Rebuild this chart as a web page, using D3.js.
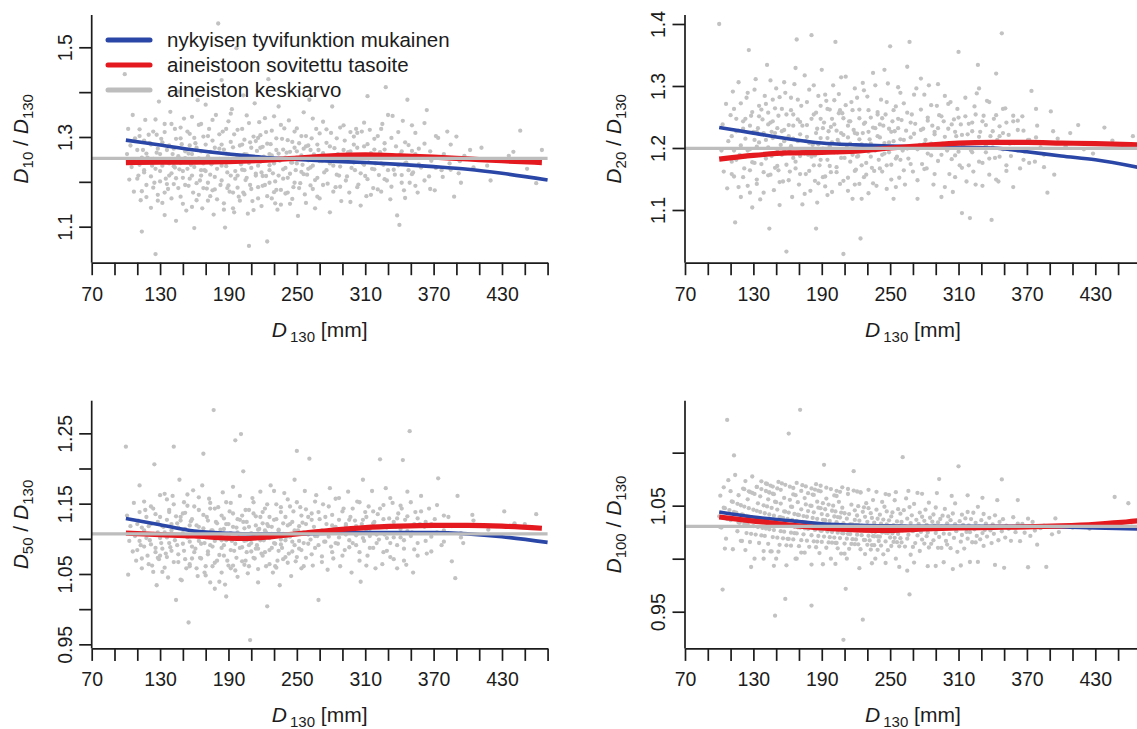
<!DOCTYPE html>
<html>
<head>
<meta charset="utf-8">
<script src="https://cdn.jsdelivr.net/npm/d3@7"></script>
<style>
  html, body { margin: 0; padding: 0; background: #fff; }
  svg { display: block; }
</style>
</head>
<body>
<svg id="chart" width="1137" height="729"></svg>
<script>
// ---------------- DATA ----------------
const xTicks = [70,90,110,130,150,170,190,210,230,250,270,290,310,330,350,370,390,410,430,450,470];
const xTickLabels = ["70","130","190","250","310","370","430"];
const legendLabels = ["nykyisen tyvifunktion mukainen", "aineistoon sovitettu tasoite", "aineiston keskiarvo"];

const p10YTicks = [1.1,1.2,1.3,1.4,1.5];
const p10YLabels = ["1.1","1.3","1.5"];
const p20YTicks = [1.1,1.2,1.3,1.4];
const p20YLabels = ["1.1","1.2","1.3","1.4"];
const p50YTicks = [0.95,1.00,1.05,1.10,1.15,1.20,1.25];
const p50YLabels = ["0.95","1.05","1.15","1.25"];
const p100YTicks = [0.95,1.00,1.05,1.10];
const p100YLabels = ["0.95","1.05"];

// Curves: current stem function (blue), fitted level (red), data mean (gray)
const p10BlueX = [100,130,160,190,220,250,280,310,340,370,400,430,470];
const p10BlueY = [1.293,1.282,1.271,1.262,1.255,1.250,1.246,1.243,1.239,1.234,1.228,1.219,1.204];
const p10RedX  = [100,130,160,190,220,250,280,310,340,370,400,430,465];
const p10RedY  = [1.243,1.244,1.244,1.245,1.248,1.253,1.258,1.260,1.258,1.255,1.251,1.247,1.243];
const p10Mean = 1.2525;

const p20BlueX = [100,130,160,190,220,250,280,310,340,370,400,430,470];
const p20BlueY = [1.233,1.224,1.215,1.208,1.205,1.203,1.202,1.201,1.200,1.194,1.187,1.181,1.168];
const p20RedX  = [100,130,160,190,220,250,280,310,340,370,400,430,467];
const p20RedY  = [1.182,1.188,1.192,1.193,1.195,1.200,1.204,1.208,1.209,1.209,1.208,1.207,1.205];
const p20Mean = 1.1995;

const p50BlueX = [100,130,160,190,220,250,280,310,340,370,400,430,470];
const p50BlueY = [1.129,1.120,1.111,1.108,1.107,1.107,1.108,1.109,1.109,1.109,1.107,1.103,1.095];
const p50RedX  = [100,130,160,190,205,220,250,280,310,340,370,400,430,465];
const p50RedY  = [1.108,1.106,1.104,1.101,1.1005,1.102,1.107,1.112,1.116,1.118,1.119,1.119,1.118,1.115];
const p50Mean = 1.107;

const p100BlueX = [100,130,160,190,220,250,280,310,340,370,400,430,470];
const p100BlueY = [1.044,1.0393,1.036,1.033,1.0315,1.031,1.0305,1.0305,1.0305,1.0305,1.030,1.029,1.028];
const p100RedX  = [100,130,160,190,220,250,280,310,340,370,400,430,450,467];
const p100RedY  = [1.0393,1.0355,1.032,1.029,1.0272,1.0267,1.028,1.029,1.0295,1.030,1.031,1.0325,1.034,1.0358];
const p100Mean = 1.0305;

// Observations: [D130 mm, D10/D130]
const p10Points = [
[101,1.262],[102,1.318],[103,1.205],[104,1.281],[105,1.233],[106,1.349],[107,1.178],[108,1.297],[109,1.246],[111,1.214],[112,1.302],[113,1.159],[114,1.089],[115,1.271],[116,1.226],[117,1.338],[118,1.193],[119,1.254],[99,1.440],
[121,1.287],[122,1.142],[123,1.236],[124,1.312],[125,1.198],[126,1.039],[127,1.265],[128,1.171],[129,1.379],[130,1.224],[131,1.296],[132,1.153],[133,1.248],[134,1.329],[135,1.207],[136,1.271],[137,1.184],[138,1.241],[139,1.356],[140,1.219],[134,1.126],[127,1.305],
[141,1.262],[142,1.195],[143,1.318],[144,1.113],[145,1.244],[146,1.401],[147,1.228],[148,1.167],[149,1.284],[150,1.209],[151,1.341],[152,1.253],[153,1.136],[154,1.272],[155,1.191],[156,1.307],[157,1.238],[158,1.345],[159,1.176],[160,1.097],[155,1.263],[148,1.297],[143,1.232],[158,1.214],
[161,1.286],[162,1.159],[163,1.244],[164,1.327],[165,1.203],[166,1.268],[167,1.141],[168,1.301],[169,1.226],[170,1.372],[171,1.185],[172,1.257],[173,1.318],[174,1.168],[175,1.239],[176,1.292],[177,1.127],[178,1.211],[179,1.349],[180,1.247],[166,1.226],[172,1.198],[176,1.181],[163,1.382],
[181,1.553],[182,1.274],[183,1.193],[184,1.236],[185,1.312],[186,1.152],[187,1.098],[188,1.263],[189,1.221],[190,1.335],[191,1.178],[192,1.289],[193,1.245],[194,1.141],[195,1.306],[196,1.207],[197,1.498],[198,1.256],[199,1.167],[200,1.281],[184,1.427],[189,1.186],[193,1.362],[198,1.214],[186,1.247],[195,1.132],
[201,1.239],[202,1.318],[203,1.176],[204,1.262],[205,1.204],[206,1.348],[207,1.129],[208,1.057],[209,1.288],[210,1.231],[211,1.157],[212,1.301],[213,1.375],[214,1.214],[215,1.269],[216,1.188],[217,1.333],[218,1.245],[219,1.146],[220,1.278],[204,1.226],[211,1.251],[216,1.298],[203,1.393],[209,1.193],[219,1.221],
[221,1.256],[222,1.193],[223,1.311],[224,1.067],[225,1.429],[226,1.237],[227,1.284],[228,1.163],[229,1.219],[230,1.346],[231,1.201],[232,1.271],[233,1.138],[234,1.368],[235,1.247],[236,1.182],[237,1.296],[238,1.228],[239,1.319],[240,1.174],[226,1.262],[231,1.152],[236,1.251],[223,1.213],
[241,1.265],[242,1.209],[243,1.337],[244,1.151],[245,1.243],[246,1.289],[247,1.188],[248,1.312],[249,1.226],[250,1.268],[251,1.124],[252,1.254],[253,1.197],[254,1.302],[255,1.238],[256,1.355],[257,1.172],[258,1.279],[259,1.216],[260,1.248],
[261,1.383],[262,1.232],[263,1.297],[264,1.184],[265,1.261],[266,1.141],[267,1.318],[268,1.209],[269,1.271],[270,1.163],[272,1.246],[273,1.334],[274,1.221],[276,1.287],[277,1.196],[278,1.253],[279,1.132],[280,1.309],
[281,1.368],[282,1.236],[283,1.275],[284,1.188],[286,1.262],[287,1.214],[288,1.321],[289,1.157],[291,1.249],[292,1.292],[293,1.203],[295,1.266],[296,1.176],[297,1.311],[298,1.231],[300,1.283],
[301,1.226],[302,1.318],[303,1.309],[304,1.194],[305,1.257],[306,1.147],[307,1.312],[308,1.241],[309,1.279],[310,1.213],[311,1.168],[312,1.391],[313,1.252],[314,1.316],[316,1.229],[317,1.186],[318,1.272],[319,1.241],
[321,1.302],[322,1.215],[323,1.266],[324,1.178],[325,1.329],[326,1.238],[327,1.286],[328,1.411],[329,1.203],[331,1.254],[332,1.161],[334,1.347],[335,1.227],[337,1.279],[338,1.125],[340,1.104],
[341,1.262],[342,1.215],[343,1.336],[344,1.181],[345,1.288],[346,1.243],[347,1.383],[349,1.198],[351,1.269],[352,1.221],[354,1.309],[356,1.176],[358,1.254],[359,1.232],
[362,1.285],[364,1.360],[366,1.212],[368,1.247],[371,1.181],[374,1.298],[377,1.226],[379,1.262],
[382,1.312],[384,1.241],[388,1.167],[390,1.301],[392,1.219],[394,1.198],[397,1.258],
[405,1.232],[412,1.276],[420,1.203],[431,1.248],[440,1.267],[446,1.314],[460,1.197],[465,1.271],
[110,1.271],[110,1.207],[112,1.317],[112,1.238],[114,1.254],[114,1.179],[116,1.292],[116,1.221],[118,1.166],[118,1.263],
[120,1.305],[120,1.244],[122,1.212],[122,1.283],[124,1.251],[124,1.187],[126,1.339],[126,1.229],[128,1.274],[128,1.158],
[130,1.201],[130,1.262],[132,1.288],[132,1.236],[134,1.176],[134,1.311],[136,1.247],[136,1.195],[138,1.281],[138,1.214],
[140,1.163],[140,1.329],[142,1.235],[142,1.274],[144,1.296],[144,1.208],[146,1.186],[146,1.257],[148,1.321],[148,1.242],
[150,1.224],[150,1.151],[152,1.268],[152,1.193],[154,1.312],[154,1.229],[156,1.207],[156,1.281],[158,1.262],[158,1.144],
[160,1.233],[160,1.298],[162,1.197],[162,1.276],[164,1.252],[164,1.171],[166,1.329],[166,1.214],[168,1.241],[168,1.186],
[170,1.283],[170,1.224],[172,1.158],[172,1.302],[174,1.216],[174,1.267],[176,1.249],[176,1.338],[178,1.183],[178,1.276],
[180,1.229],[180,1.161],[182,1.306],[182,1.251],[184,1.203],[184,1.283],[186,1.272],[186,1.138],[188,1.235],[188,1.318],
[190,1.192],[190,1.262],[192,1.214],[192,1.352],[194,1.277],[194,1.176],[196,1.246],[196,1.224],[198,1.316],[198,1.187],
[200,1.158],[200,1.254],[202,1.227],[202,1.283],[204,1.294],[204,1.172],[206,1.209],[206,1.261],[208,1.331],[208,1.242],
[210,1.184],[210,1.276],[212,1.255],[212,1.137],[214,1.291],[214,1.218],[216,1.163],[216,1.236],[218,1.276],[218,1.304],
[220,1.213],[220,1.191],[222,1.249],[222,1.342],[224,1.285],[224,1.168],[226,1.198],[226,1.226],[228,1.314],[228,1.259],
[230,1.241],[230,1.177],[232,1.182],[232,1.297],[234,1.263],[234,1.214],[236,1.327],[236,1.149],[238,1.207],[238,1.272],
[240,1.254],[240,1.231],[242,1.293],[242,1.176],[244,1.218],[244,1.267],[246,1.162],[246,1.243],[248,1.276],[248,1.198],
[250,1.241],[250,1.319],[252,1.186],[252,1.286],[254,1.259],[254,1.222],[256,1.217],[256,1.274],[258,1.302],[258,1.153],
[260,1.229],[260,1.281],[262,1.271],[262,1.192],[264,1.341],[264,1.236],[266,1.204],[266,1.256],[268,1.283],[268,1.167],
[270,1.246],[270,1.308],[273,1.193],[273,1.264],[276,1.317],[276,1.226],[279,1.241],[279,1.279],[282,1.178],[282,1.252],
[285,1.297],[285,1.216],[288,1.234],[288,1.189],[291,1.326],[291,1.271],[294,1.212],[294,1.247],[297,1.268],[297,1.155],
[300,1.243],[300,1.301],[303,1.188],[303,1.276],[306,1.257],[306,1.219],[309,1.332],[309,1.238],[312,1.206],[312,1.284],
[315,1.264],[315,1.171],[318,1.296],[318,1.228],[321,1.183],[321,1.253],[324,1.241],[324,1.318],[327,1.272],[327,1.206],
[330,1.226],[330,1.349],[333,1.298],[333,1.189],[336,1.254],[336,1.216],[339,1.311],[339,1.237],[342,1.198],[342,1.268],
[345,1.241],[345,1.164],[348,1.282],[348,1.226],[351,1.217],[351,1.326],[354,1.262],[354,1.191],[357,1.239],[357,1.274],
[362,1.203],[362,1.331],[367,1.268],[367,1.184],[372,1.231],[372,1.302],[378,1.256],[378,1.211],[385,1.283],[385,1.227],
[393,1.246],[402,1.271],[417,1.236],[436,1.258],[452,1.229]
];

// [D130 mm, D20/D130]
const p20Points = [
[100,1.400],[102,1.196],[103,1.238],[104,1.162],[106,1.271],[107,1.135],[108,1.211],[110,1.253],[111,1.178],[112,1.291],[113,1.154],[114,1.080],[115,1.227],[117,1.306],[118,1.189],[119,1.121],
[121,1.243],[122,1.167],[123,1.215],[124,1.281],[125,1.139],[126,1.358],[127,1.198],[128,1.252],[129,1.104],[130,1.226],[131,1.176],[132,1.311],[133,1.149],[134,1.232],[135,1.268],[136,1.117],[137,1.189],[138,1.246],[139,1.161],[140,1.284],[133,1.202],[127,1.128],
[141,1.213],[142,1.334],[143,1.156],[144,1.070],[145,1.241],[146,1.187],[147,1.278],[148,1.132],[149,1.224],[150,1.296],[151,1.171],[152,1.252],[153,1.108],[154,1.205],[155,1.263],[156,1.146],[157,1.229],[158,1.289],[159,1.033],[160,1.192],[146,1.226],[152,1.164],[157,1.197],[143,1.257],
[161,1.237],[162,1.162],[163,1.281],[164,1.121],[165,1.215],[166,1.303],[167,1.178],[168,1.375],[169,1.246],[170,1.141],[171,1.222],[172,1.268],[173,1.109],[174,1.196],[175,1.317],[176,1.158],[177,1.237],[178,1.189],[179,1.294],[180,1.131],[165,1.254],[171,1.187],[176,1.211],[162,1.198],
[181,1.382],[182,1.205],[183,1.254],[184,1.147],[185,1.070],[186,1.231],[187,1.284],[188,1.172],[189,1.216],[190,1.326],[191,1.153],[192,1.241],[193,1.193],[194,1.276],[195,1.124],[196,1.227],[197,1.262],[198,1.161],[199,1.209],[200,1.301],[184,1.188],[189,1.247],[193,1.138],[198,1.234],[186,1.112],[195,1.181],
[201,1.238],[202,1.371],[203,1.169],[204,1.213],[205,1.287],[206,1.142],[207,1.224],[208,1.256],[209,1.029],[210,1.184],[211,1.315],[212,1.201],[213,1.152],[214,1.243],[215,1.178],[216,1.274],[217,1.118],[218,1.229],[219,1.296],[220,1.165],[204,1.193],[209,1.248],[213,1.217],[217,1.189],[206,1.261],[219,1.141],
[221,1.223],[222,1.187],[223,1.262],[224,1.054],[225,1.206],[226,1.305],[227,1.153],[228,1.241],[229,1.176],[230,1.283],[231,1.127],[232,1.214],[233,1.249],[234,1.168],[235,1.321],[236,1.197],[237,1.232],[238,1.139],[239,1.258],[240,1.181],[226,1.224],[231,1.194],[236,1.163],[223,1.142],
[241,1.217],[242,1.278],[243,1.162],[244,1.236],[245,1.191],[246,1.254],[247,1.134],[248,1.304],[249,1.209],[250,1.364],[251,1.173],[252,1.243],[253,1.118],[254,1.227],[255,1.267],[256,1.186],[257,1.298],[258,1.152],[259,1.214],[260,1.245],
[261,1.196],[262,1.272],[263,1.141],[264,1.228],[265,1.331],[266,1.183],[267,1.371],[268,1.217],[269,1.254],[270,1.162],[272,1.239],[273,1.296],[274,1.118],[276,1.205],[277,1.262],[278,1.174],[279,1.231],[280,1.286],
[281,1.213],[282,1.167],[283,1.249],[284,1.301],[286,1.188],[287,1.236],[288,1.141],[289,1.222],[291,1.268],[292,1.179],[293,1.253],[295,1.121],[296,1.207],[297,1.243],[298,1.284],[300,1.196],
[301,1.231],[302,1.158],[303,1.274],[304,1.205],[305,1.129],[306,1.246],[307,1.188],[308,1.219],[309,1.263],[310,1.355],[311,1.172],[312,1.238],[313,1.095],[314,1.204],[316,1.251],[317,1.146],[318,1.222],[320,1.087],
[321,1.196],[322,1.241],[323,1.162],[324,1.267],[325,1.208],[326,1.288],[327,1.334],[328,1.178],[329,1.226],[331,1.139],[332,1.252],[334,1.193],[335,1.276],[337,1.157],[338,1.219],[339,1.084],
[341,1.247],[342,1.184],[343,1.320],[344,1.213],[345,1.146],[346,1.235],[348,1.385],[349,1.198],[351,1.264],[352,1.163],[354,1.221],[356,1.187],[358,1.243],[359,1.208],
[362,1.229],[364,1.167],[366,1.251],[368,1.194],[371,1.213],[374,1.292],[377,1.178],[379,1.236],
[382,1.201],[385,1.169],[388,1.128],[391,1.259],[394,1.157],[397,1.215],[408,1.224],[420,1.198],[438,1.233],[463,1.219],
[111,1.219],[111,1.158],[113,1.263],[113,1.196],[115,1.181],[115,1.247],[117,1.228],[117,1.137],[119,1.272],[119,1.204],
[121,1.153],[121,1.231],[123,1.247],[123,1.186],[125,1.196],[125,1.289],[127,1.236],[127,1.164],[129,1.177],[129,1.258],
[131,1.294],[131,1.213],[133,1.142],[133,1.226],[135,1.209],[135,1.251],[137,1.262],[137,1.174],[139,1.224],[139,1.128],
[141,1.183],[141,1.271],[143,1.238],[143,1.201],[145,1.157],[145,1.309],[147,1.216],[147,1.243],[149,1.264],[149,1.168],
[151,1.198],[151,1.232],[153,1.145],[153,1.282],[155,1.227],[155,1.189],[157,1.306],[157,1.211],[159,1.173],[159,1.254],
[161,1.219],[161,1.148],[163,1.261],[163,1.203],[165,1.184],[165,1.236],[167,1.329],[167,1.167],[169,1.211],[169,1.278],
[171,1.158],[171,1.242],[173,1.236],[173,1.197],[175,1.191],[175,1.126],[177,1.274],[177,1.218],[179,1.208],[179,1.163],
[181,1.247],[181,1.186],[183,1.172],[183,1.301],[185,1.224],[185,1.257],[187,1.143],[187,1.206],[189,1.268],[189,1.181],
[191,1.199],[191,1.232],[193,1.286],[193,1.154],[195,1.216],[195,1.263],[197,1.171],[197,1.203],[199,1.247],[199,1.129],
[201,1.193],[201,1.277],[203,1.228],[203,1.161],[205,1.256],[205,1.208],[207,1.184],[207,1.314],[209,1.221],[209,1.147],
[211,1.269],[211,1.194],[213,1.131],[213,1.236],[215,1.243],[215,1.207],[217,1.197],[217,1.261],[219,1.163],[219,1.224],
[221,1.281],[221,1.186],[223,1.214],[223,1.248],[225,1.172],[225,1.118],[227,1.239],[227,1.293],[229,1.204],[229,1.157],
[231,1.261],[231,1.226],[233,1.186],[233,1.207],[235,1.233],[235,1.143],[237,1.301],[237,1.196],[239,1.219],[239,1.254],
[241,1.167],[241,1.238],[243,1.248],[243,1.189],[245,1.208],[245,1.326],[247,1.274],[247,1.172],[249,1.193],[249,1.231],
[251,1.226],[251,1.149],[253,1.261],[253,1.211],[255,1.137],[255,1.183],[257,1.232],[257,1.247],[259,1.181],[259,1.289],
[262,1.213],[262,1.164],[265,1.257],[265,1.199],[268,1.174],[268,1.241],[271,1.223],[271,1.286],[274,1.198],[274,1.148],
[277,1.312],[277,1.229],[280,1.166],[280,1.207],[283,1.244],[283,1.191],[286,1.207],[286,1.269],[289,1.158],[289,1.226],
[292,1.232],[292,1.303],[295,1.189],[295,1.251],[298,1.218],[298,1.137],[301,1.271],[301,1.206],[304,1.182],[304,1.238],
[307,1.226],[307,1.153],[310,1.249],[310,1.194],[313,1.168],[313,1.221],[316,1.208],[316,1.281],[319,1.239],[319,1.172],
[322,1.193],[322,1.227],[325,1.254],[325,1.141],[328,1.218],[328,1.296],[331,1.176],[331,1.243],[334,1.237],[334,1.204],
[337,1.274],[337,1.183],[340,1.201],[340,1.227],[343,1.253],[343,1.149],[346,1.186],[346,1.219],[349,1.224],[349,1.263],
[352,1.172],[352,1.241],[355,1.207],[355,1.198],[358,1.252],[358,1.137],[362,1.196],[362,1.244],[367,1.228],[367,1.181],
[372,1.176],[372,1.213],[378,1.217],[378,1.263],[385,1.189],[393,1.227],[404,1.203],[415,1.237],[428,1.191],[445,1.212]
];

// [D130 mm, D50/D130]
const p50Points = [
[100,1.231],[101,1.133],[102,1.049],[103,1.097],[104,1.118],[106,1.082],[107,1.151],[108,1.104],[109,1.069],[111,1.126],[112,1.176],[113,1.091],[114,1.058],[116,1.112],[117,1.141],[119,1.076],
[121,1.098],[122,1.121],[123,1.062],[124,1.143],[125,1.206],[126,1.087],[127,1.034],[128,1.109],[129,1.071],[130,1.131],[131,1.094],[132,1.053],[133,1.117],[134,1.164],[135,1.079],[136,1.102],[137,1.045],[138,1.138],[139,1.088],[140,1.112],[130,1.076],[136,1.156],
[141,1.161],[142,1.231],[143,1.098],[144,1.013],[145,1.122],[146,1.067],[147,1.184],[148,1.105],[149,1.041],[150,1.136],[151,1.083],[152,1.114],[153,1.058],[154,1.147],[155,0.981],[156,1.096],[157,1.125],[158,1.072],[159,1.169],[160,1.104],[145,1.091],[151,1.152],[156,1.061],[148,1.131],
[161,1.086],[162,1.119],[163,1.047],[164,1.141],[165,1.073],[166,1.108],[167,1.176],[168,1.221],[169,1.094],[170,1.061],[171,1.131],[172,1.082],[173,1.157],[174,1.038],[175,1.112],[176,1.089],[177,1.283],[178,1.066],[179,1.124],[180,1.101],[164,1.097],[169,1.052],[174,1.143],[178,1.029],
[181,1.145],[182,1.077],[183,1.113],[184,1.052],[185,1.166],[186,1.091],[187,1.035],[188,1.121],[189,1.069],[190,1.104],[191,1.139],[192,1.058],[193,1.097],[194,1.174],[195,1.083],[196,1.240],[197,1.116],[198,1.046],[199,1.102],[200,1.127],[184,1.098],[188,1.018],[192,1.151],[197,1.073],[186,1.129],[194,1.062],
[201,1.249],[202,1.088],[203,1.124],[204,1.063],[205,1.141],[206,1.098],[207,1.051],[208,1.117],[209,0.956],[210,1.082],[211,1.158],[212,1.104],[213,1.072],[214,1.132],[215,1.091],[216,1.038],[217,1.114],[218,1.167],[219,1.079],[220,1.122],[203,1.196],[208,1.091],[212,1.136],[216,1.086],[205,1.069],[219,1.106],
[221,1.098],[222,1.143],[223,1.061],[224,1.004],[225,1.118],[226,1.084],[227,1.176],[228,1.107],[229,1.052],[230,1.127],[231,1.093],[232,1.149],[233,1.069],[234,1.112],[235,1.034],[236,1.138],[237,1.087],[238,1.122],[239,1.165],[240,1.074],[226,1.131],[231,1.061],[236,1.099],[223,1.109],
[241,1.103],[242,1.156],[243,1.079],[244,1.121],[245,1.047],[246,1.096],[247,1.139],[248,1.184],[249,1.068],[250,1.225],[251,1.112],[252,1.086],[253,1.145],[254,1.058],[255,1.123],[256,1.094],[257,1.168],[258,1.073],[259,1.108],[260,1.131],
[261,1.214],[262,1.099],[263,1.136],[264,1.062],[265,1.117],[266,1.087],[267,1.162],[268,1.104],[269,1.013],[270,1.128],[272,1.075],[273,1.149],[274,1.096],[276,1.121],[277,1.056],[278,1.111],[279,1.172],[280,1.089],
[281,1.134],[282,1.072],[283,1.115],[284,1.157],[286,1.093],[287,1.127],[288,1.061],[289,1.108],[291,1.143],[292,1.084],[293,1.119],[295,1.167],[296,1.098],[297,1.131],[298,1.052],[300,1.112],
[301,1.126],[302,1.091],[303,1.153],[304,1.108],[305,1.069],[306,1.039],[307,1.121],[308,1.184],[309,1.097],[310,1.138],[311,1.113],[312,1.076],[313,1.146],[314,1.104],[316,1.168],[317,1.087],[318,1.124],[319,1.058],
[321,1.135],[322,1.099],[323,1.213],[324,1.117],[325,1.064],[326,1.148],[327,1.106],[328,1.172],[329,1.083],[331,1.129],[332,1.094],[334,1.151],[335,1.071],[337,1.117],[338,1.058],[339,1.136],
[341,1.102],[342,1.143],[343,1.212],[344,1.086],[345,1.127],[346,1.063],[347,1.167],[349,1.253],[351,1.109],[352,1.052],[354,1.138],[356,1.094],[358,1.121],[359,1.161],
[362,1.117],[364,1.079],[366,1.143],[368,1.103],[371,1.128],[374,1.186],[377,1.091],[379,1.112],
[383,1.131],[386,1.068],[389,1.044],[391,1.161],[394,1.108],[396,1.094],[404,1.134],[425,1.118],[441,1.122],[460,1.135],
[110,1.121],[110,1.084],[112,1.097],[112,1.138],[114,1.116],[114,1.072],[116,1.089],[116,1.153],[118,1.131],[118,1.101],
[120,1.064],[120,1.118],[122,1.092],[122,1.146],[124,1.107],[124,1.053],[126,1.135],[126,1.081],[128,1.073],[128,1.124],
[130,1.101],[130,1.162],[132,1.118],[132,1.086],[134,1.059],[134,1.109],[136,1.127],[136,1.074],[138,1.094],[138,1.141],
[140,1.083],[140,1.121],[142,1.149],[142,1.067],[144,1.105],[144,1.132],[146,1.078],[146,1.116],[148,1.126],[148,1.042],
[150,1.093],[150,1.108],[152,1.137],[152,1.071],[154,1.102],[154,1.163],[156,1.064],[156,1.119],[158,1.128],[158,1.089],
[160,1.081],[160,1.146],[162,1.106],[162,1.058],[164,1.159],[164,1.117],[166,1.072],[166,1.093],[168,1.115],[168,1.134],
[170,1.048],[170,1.102],[172,1.126],[172,1.078],[174,1.091],[174,1.151],[176,1.112],[176,1.061],[178,1.143],[178,1.097],
[180,1.069],[180,1.122],[182,1.104],[182,1.039],[184,1.133],[184,1.087],[186,1.076],[186,1.114],[188,1.098],[188,1.152],
[190,1.121],[190,1.062],[192,1.084],[192,1.108],[194,1.117],[194,1.136],[196,1.055],[196,1.093],[198,1.109],[198,1.128],
[200,1.087],[200,1.161],[202,1.133],[202,1.068],[204,1.097],[204,1.115],[206,1.124],[206,1.081],[208,1.061],[208,1.141],
[210,1.108],[210,1.094],[212,1.152],[212,1.073],[214,1.086],[214,1.119],[216,1.113],[216,1.057],[218,1.098],[218,1.131],
[220,1.138],[220,1.076],[222,1.081],[222,1.112],[224,1.121],[224,1.149],[226,1.064],[226,1.101],[228,1.117],[228,1.087],
[230,1.094],[230,1.168],[232,1.128],[232,1.059],[234,1.083],[234,1.113],[236,1.145],[236,1.092],[238,1.107],[238,1.071],
[240,1.131],[240,1.098],[242,1.066],[242,1.119],[244,1.103],[244,1.146],[246,1.124],[246,1.082],[248,1.091],[248,1.112],
[250,1.152],[250,1.074],[252,1.118],[252,1.097],[254,1.084],[254,1.133],[256,1.109],[256,1.061],[258,1.142],[258,1.121],
[260,1.093],[260,1.106],[263,1.127],[263,1.078],[266,1.104],[266,1.153],[269,1.138],[269,1.091],[272,1.112],[272,1.067],
[275,1.096],[275,1.131],[278,1.146],[278,1.103],[281,1.081],[281,1.119],[284,1.117],[284,1.094],[287,1.102],[287,1.158],
[290,1.139],[290,1.076],[293,1.106],[293,1.121],[296,1.127],[296,1.088],[299,1.094],[299,1.143],[302,1.118],[302,1.105],
[305,1.152],[305,1.081],[308,1.101],[308,1.127],[311,1.131],[311,1.062],[314,1.087],[314,1.114],[317,1.122],[317,1.139],
[320,1.106],[320,1.094],[323,1.143],[323,1.117],[326,1.081],[326,1.128],[329,1.116],[329,1.101],[332,1.158],[332,1.074],
[335,1.102],[335,1.124],[338,1.129],[338,1.091],[341,1.114],[341,1.147],[344,1.098],[344,1.069],[347,1.132],[347,1.111],
[350,1.104],[350,1.152],[353,1.121],[353,1.085],[356,1.076],[356,1.129],[359,1.139],[359,1.108],[363,1.097],[363,1.124],
[368,1.121],[368,1.082],[373,1.109],[373,1.148],[379,1.133],[379,1.096],[386,1.118],[394,1.102],[405,1.126],[418,1.113],[432,1.139],[450,1.121]
];

// Raw measurements for the lowest-right panel: [D130 mm, D100 mm]
const p100Raw = [
[100,104],[101,107],[102,105],[103,100],[104,111],[105,110],[106,108],[107,121],[108,116],[109,114],[110,114],[111,117],[112,113],[113,124],[114,123],[115,120],[116,119],[117,124],[118,122],[119,125],
[101,104],[104,109],[107,111],[110,117],[113,118],[116,122],[119,121],[105,106],[112,118],[117,121],
[120,125],[120,122],[121,129],[121,126],[122,126],[122,128],[123,124],[123,132],[124,129],[124,127],[125,132],[125,129],[126,132],[126,131],[127,129],[127,135],[128,131],[128,133],[129,134],[129,139],
[130,134],[130,136],[131,131],[131,139],[132,137],[132,135],[133,142],[133,139],[134,138],[134,141],[135,137],[135,140],[136,144],[136,142],[137,140],[137,147],[138,143],[138,142],[139,146],[139,140],
[140,146],[140,143],[141,150],[141,145],[142,147],[142,149],[143,145],[143,151],[144,150],[144,148],[145,155],[145,146],[146,151],[146,153],[147,150],[147,156],[148,154],[148,152],[149,141],[149,157],
[150,155],[150,150],[151,158],[151,154],[152,163],[152,157],[153,159],[153,155],[154,162],[154,158],[155,160],[155,166],[156,162],[156,159],[157,166],[157,161],[158,152],[158,165],[159,164],[159,161],
[142,152],[146,147],[150,158],[154,160],[157,164],[144,153],[152,153],[148,157],
[160,166],[160,163],[161,180],[161,168],[162,167],[162,171],[163,167],[163,165],[164,172],[164,170],[165,176],[165,168],[166,171],[166,173],[167,167],[167,177],[168,174],[168,172],[169,178],[169,174],
[170,172],[170,177],[171,195],[171,176],[172,180],[172,175],[173,179],[173,185],[174,178],[174,181],[175,180],[175,176],[176,185],[176,182],[177,180],[177,184],[178,189],[178,183],[179,185],[179,181],
[163,171],[166,170],[169,176],[172,173],[175,185],[178,186],[161,164],[174,180],
[180,186],[180,189],[181,173],[181,185],[182,193],[182,189],[183,186],[183,191],[184,189],[184,196],[185,191],[185,187],[186,196],[186,193],[187,191],[187,196],[188,194],[188,189],[189,202],[189,194],
[190,198],[190,193],[191,201],[191,198],[192,209],[192,196],[193,202],[193,199],[194,196],[194,205],[195,200],[195,203],[196,199],[196,206],[197,204],[197,201],[198,198],[198,204],[199,208],[199,204],
[181,190],[184,190],[187,199],[190,195],[193,200],[196,202],[199,202],[183,194],[186,189],[189,198],
[200,206],[200,210],[201,205],[201,209],[202,211],[202,205],[203,210],[203,215],[204,209],[204,206],[205,216],[205,211],[206,210],[206,214],[207,213],[207,208],[208,218],[208,213],[209,193],[209,216],
[210,219],[210,213],[211,205],[211,217],[212,220],[212,216],[213,226],[213,219],[214,216],[214,223],[215,220],[215,222],[216,227],[216,219],[217,224],[217,221],[218,236],[218,224],[219,229],[219,227],
[201,213],[204,212],[207,216],[210,211],[213,218],[216,222],[219,222],[203,206],[206,219],[209,214],
[220,227],[220,224],[221,230],[221,226],[222,225],[222,233],[223,229],[223,231],[224,226],[224,238],[225,232],[225,230],[226,213],[226,236],[227,231],[227,233],[228,237],[228,229],[229,235],[229,241],
[230,238],[230,233],[231,236],[231,242],[232,239],[232,236],[233,243],[233,235],[234,240],[234,243],[235,240],[235,248],[236,244],[236,239],[237,243],[237,237],[238,249],[238,245],[239,244],[239,248],
[221,235],[224,230],[227,238],[230,237],[233,240],[236,241],[239,241],[222,229],[228,232],[234,237],
[240,247],[240,244],[241,251],[241,246],[242,250],[242,245],[243,256],[243,249],[244,245],[244,253],[245,252],[245,257],[246,250],[246,252],[247,258],[247,255],[248,250],[248,254],[249,258],[249,264],
[250,255],[250,257],[251,261],[251,254],[252,258],[252,263],[253,261],[253,257],[254,268],[254,259],[255,262],[255,255],[256,265],[256,260],[257,263],[257,269],[258,266],[258,261],[259,270],[259,264],
[260,269],[260,264],[261,286],[261,268],[262,274],[263,271],[263,266],[264,279],[265,275],[265,270],[266,272],[267,258],[267,280],[268,277],[268,269],[269,280],[270,277],[270,273],[271,285],
[272,280],[272,276],[273,283],[274,280],[274,291],[275,284],[276,278],[276,288],[277,284],[278,289],[278,283],[279,287],[280,290],[280,284],[281,294],[282,288],[282,291],[283,290],[284,299],[284,287],
[285,296],[286,294],[286,290],[287,297],[288,293],[288,300],[289,298],[290,297],[290,304],[291,299],[292,302],[292,295],[293,315],[293,299],[294,305],[295,304],[295,298],[296,308],[297,304],[298,307],[298,312],[299,304],
[300,310],[300,304],[301,313],[302,309],[303,314],[303,306],[304,313],[305,318],[306,312],[307,317],[307,323],[308,316],[309,311],[310,337],[310,319],[311,322],[312,317],[313,326],[313,320],[314,324],
[315,318],[316,328],[317,325],[318,332],[318,324],[319,329],[320,319],[320,328],[321,333],[322,327],[323,337],[324,333],[325,336],[325,330],[326,333],[327,343],[328,338],[329,335],[330,342],[331,339],
[332,336],[332,346],[333,342],[334,345],[335,342],[337,350],[338,347],[339,344],[340,351],[341,349],[342,356],[343,353],[345,351],[346,358],[348,374],[348,357],[349,362],[351,358],[352,363],[354,364],[356,362],[358,372],[360,369],
[362,374],[364,370],[366,378],[368,377],[371,385],[373,381],[375,388],[377,387],[379,384],[382,393],[385,397],[387,384],[390,402],[392,401],[395,410],[398,408],[410,422],[425,437],[447,473],[459,483],[462,476],
[290,288],[350,347],[265,262],[305,302],
[122,130],[126,134],[129,137],[133,142],[137,146],[141,151],[144,153],[147,157],[151,161],[154,164],[158,169],[162,173],[165,175],[168,180],[172,183],[176,188],[181,193],[185,198],[189,201],[194,207],
[198,211],[203,216],[208,222],[213,227],[218,232],[224,238],[231,246],[238,253],[246,261],[255,271],[266,283],[278,295],[291,309],[304,322],[318,337],[331,350],[344,363],[362,382],
[128,127],[139,139],[148,147],[159,158],[168,168],[181,180],[191,190],[202,201],[212,212],[223,221],[234,233],[246,245],[258,256],[271,270],[283,281],[297,296],[312,310],[327,326],[342,340],[371,368]
];

// ---------------- LAYOUT ----------------
const FONT = "'Liberation Sans', Arial, Helvetica, sans-serif";
const INK = "#1c1c1c";
const C_BLUE = "#2a46a6", C_RED = "#e4191f", C_GRAY = "#bdbdbd", C_PT = "#c2c2c2";
const PX_PER_MM = 1.1397;

const panels = [
  {left: 91.7, top: 15, bottom: 262.7, yDomain: [1.0197, 1.572], yTicks: p10YTicks, yLabels: p10YLabels,
   sub: "10", pts: p10Points, blue: [p10BlueX, p10BlueY], red: [p10RedX, p10RedY], mean: p10Mean, legend: true},
  {left: 685, top: 15, bottom: 262.7, yDomain: [1.015, 1.4145], yTicks: p20YTicks, yLabels: p20YLabels,
   sub: "20", pts: p20Points, blue: [p20BlueX, p20BlueY], red: [p20RedX, p20RedY], mean: p20Mean},
  {left: 91.7, top: 400.7, bottom: 648.4, yDomain: [0.9442, 1.2964], yTicks: p50YTicks, yLabels: p50YLabels,
   sub: "50", pts: p50Points, blue: [p50BlueX, p50BlueY], red: [p50RedX, p50RedY], mean: p50Mean},
  {left: 685, top: 400.7, bottom: 648.4, yDomain: [0.9154, 1.149], yTicks: p100YTicks, yLabels: p100YLabels,
   sub: "100", pts: p100Raw.map(([d130, d100]) => [d130, d100 / d130]),
   blue: [p100BlueX, p100BlueY], red: [p100RedX, p100RedY], mean: p100Mean}
];

const svg = d3.select("#chart");
svg.append("rect").attr("width", 1137).attr("height", 729).attr("fill", "#fff");

panels.forEach(p => {
  const x = d3.scaleLinear().domain([70, 470]).range([p.left, p.left + 400 * PX_PER_MM]);
  const y = d3.scaleLinear().domain(p.yDomain).range([p.bottom, p.top]);
  const g = svg.append("g");

  g.append("g").selectAll("circle").data(p.pts).join("circle")
    .attr("cx", d => x(d[0])).attr("cy", d => y(d[1])).attr("r", 2.15)
    .attr("fill", C_PT);

  const line = d3.line().x(d => x(d[0])).y(d => y(d[1])).curve(d3.curveMonotoneX);
  const zip = (xs, ys) => xs.map((v, i) => [v, ys[i]]);

  g.append("path").datum(zip(p.blue[0], p.blue[1])).attr("d", line)
    .attr("fill", "none").attr("stroke", C_BLUE).attr("stroke-width", 3.6);
  g.append("path").datum(zip(p.red[0], p.red[1])).attr("d", line)
    .attr("fill", "none").attr("stroke", C_RED).attr("stroke-width", 5.2);
  g.append("path").datum([[70, p.mean], [470, p.mean]]).attr("d", line)
    .attr("fill", "none").attr("stroke", C_GRAY).attr("stroke-width", 3.2);

  const xa = d3.axisBottom(x).tickValues(xTicks).tickSize(12.5).tickSizeOuter(0).tickPadding(11.5)
    .tickFormat(d => xTickLabels.includes(String(d)) ? String(d) : "");
  const gx = g.append("g").attr("transform", `translate(0,${p.bottom})`).call(xa);
  gx.selectAll("path, line").attr("stroke", INK).attr("stroke-width", 1.7);
  gx.selectAll("text").attr("font-family", FONT).attr("font-size", 19.5).attr("fill", INK);

  const ya = d3.axisLeft(y).tickValues(p.yTicks).tickSize(12.5).tickSizeOuter(0)
    .tickFormat(d => { const l = p.yLabels.find(s => Math.abs(+s - d) < 1e-9); return l || ""; });
  const gy = g.append("g").attr("transform", `translate(${p.left},0)`).call(ya);
  gy.select(".domain").attr("d", `M0,${p.bottom}V${p.top}`);
  gy.selectAll("path, line").attr("stroke", INK).attr("stroke-width", 1.7);
  gy.selectAll("text").attr("font-family", FONT).attr("font-size", 19.5).attr("fill", INK)
    .attr("x", 0).attr("dy", 0).attr("text-anchor", "middle")
    .attr("transform", "translate(-20,0) rotate(-90)");

  const xt = g.append("text").attr("x", p.left + 200 * PX_PER_MM).attr("y", p.bottom + 74)
    .attr("text-anchor", "middle").attr("font-family", FONT).attr("font-size", 21).attr("fill", INK);
  xt.append("tspan").attr("font-style", "italic").text("D");
  xt.append("tspan").attr("font-size", 15).attr("dx", 3).attr("dy", 5).text("130");
  xt.append("tspan").attr("dy", -5).text(" [mm]");

  const yt = g.append("text")
    .attr("transform", `translate(${p.left - 64},${(p.top + p.bottom) / 2}) rotate(-90)`)
    .attr("text-anchor", "middle").attr("font-family", FONT).attr("font-size", 21).attr("fill", INK);
  yt.append("tspan").attr("font-style", "italic").text("D");
  yt.append("tspan").attr("font-size", 15).attr("dy", 5).text(p.sub);
  yt.append("tspan").attr("dy", -5).text(" / ");
  yt.append("tspan").attr("font-style", "italic").text("D");
  yt.append("tspan").attr("font-size", 15).attr("dy", 5).text("130");

  if (p.legend) {
    const colors = [C_BLUE, C_RED, C_GRAY];
    const rowY = [40, 65, 90];
    const lg = g.append("g");
    legendLabels.forEach((lab, i) => {
      lg.append("line").attr("x1", 108).attr("x2", 150).attr("y1", rowY[i]).attr("y2", rowY[i])
        .attr("stroke", colors[i]).attr("stroke-width", 5).attr("stroke-linecap", "round");
      lg.append("text").attr("x", 167).attr("y", rowY[i]).attr("dy", "0.36em")
        .attr("font-family", FONT).attr("font-size", 20.5).attr("fill", INK).text(lab);
    });
  }
});
</script>
</body>
</html>
